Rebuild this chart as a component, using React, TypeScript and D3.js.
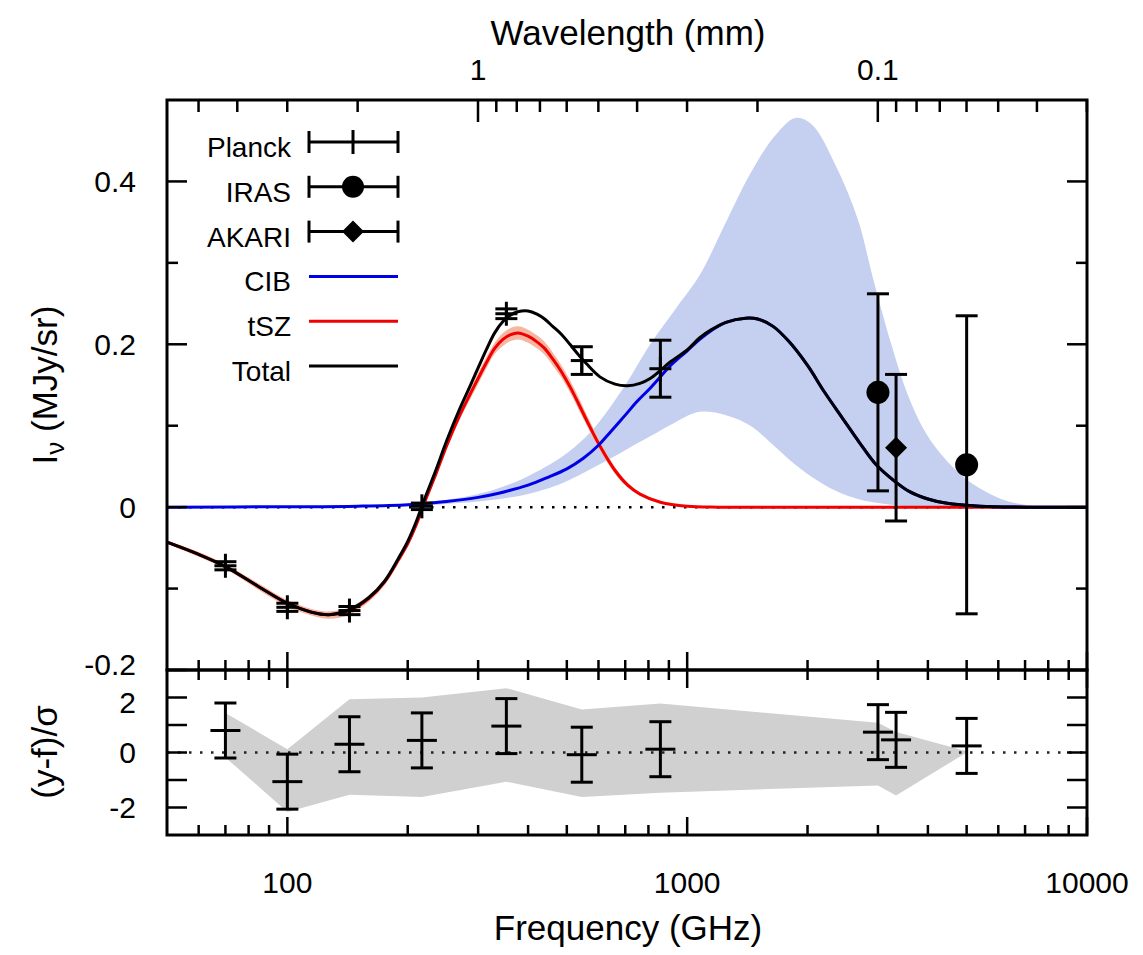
import React from 'react';
import * as d3 from 'd3';

// Planck / IRAS / AKARI measurements (GHz, MJy/sr)
const planckFreq = [70, 100, 143, 217, 353, 545, 857];
const planckVal = [-0.072, -0.123, -0.127, 0.001, 0.2375, 0.18, 0.17];
const planckErr = [0.005, 0.005, 0.005, 0.004, 0.006, 0.017, 0.035];

const irasFreq = [3000, 5000];
const irasVal = [0.141, 0.052];
const irasErr = [0.121, 0.183];

const akariFreq = [3330];
const akariVal = [0.073];
const akariErr = [0.09];

// model curves
const tszFreq = [50, 60, 70, 85, 100, 115, 127, 143, 160, 175, 190, 200, 210, 218, 235, 250, 270, 286, 300, 315, 330, 346, 362, 377, 400, 421, 440, 461, 485, 509, 535, 560, 605, 660, 710, 762, 857, 1000, 1200, 1500, 10000];
const tszVal = [-0.043, -0.058, -0.073, -0.098, -0.118, -0.129, -0.132, -0.127, -0.112, -0.092, -0.064, -0.045, -0.022, 0.0, 0.04, 0.075, 0.113, 0.138, 0.158, 0.178, 0.195, 0.206, 0.212, 0.214, 0.21, 0.203, 0.195, 0.182, 0.166, 0.148, 0.127, 0.107, 0.075, 0.045, 0.027, 0.016, 0.006, 0.001, 0, 0, 0];
const tszLo = [-0.045, -0.061, -0.076, -0.102, -0.122, -0.133, -0.137, -0.132, -0.116, -0.096, -0.067, -0.047, -0.023, -0.001, 0.038, 0.071, 0.108, 0.132, 0.151, 0.171, 0.188, 0.198, 0.204, 0.206, 0.202, 0.195, 0.187, 0.174, 0.159, 0.141, 0.12, 0.101, 0.07, 0.041, 0.024, 0.014, 0.005, 0.0005, 0, 0, 0];
const tszHi = [-0.041, -0.055, -0.07, -0.094, -0.114, -0.125, -0.128, -0.123, -0.108, -0.088, -0.061, -0.043, -0.021, 0.001, 0.042, 0.079, 0.118, 0.144, 0.165, 0.185, 0.202, 0.214, 0.22, 0.222, 0.218, 0.211, 0.203, 0.19, 0.174, 0.156, 0.135, 0.114, 0.081, 0.049, 0.03, 0.018, 0.007, 0.0015, 0, 0, 0];

const cibFreq = [50, 100, 150, 200, 250, 300, 350, 400, 450, 500, 550, 600, 642, 700, 750, 808, 857, 900, 1000, 1075, 1150, 1250, 1400, 1500, 1640, 1800, 2000, 2200, 2440, 2700, 2970, 3300, 3600, 4000, 4430, 5400, 7000, 10000];
const cibVal = [0, 0.0005, 0.0012, 0.003, 0.007, 0.012, 0.019, 0.027, 0.037, 0.047, 0.06, 0.076, 0.092, 0.113, 0.13, 0.146, 0.16, 0.172, 0.192, 0.206, 0.217, 0.227, 0.232, 0.231, 0.222, 0.203, 0.174, 0.142, 0.11, 0.079, 0.052, 0.032, 0.019, 0.01, 0.005, 0.001, 0, 0];

const totalFreq = [50, 60, 70, 85, 100, 115, 127, 143, 160, 175, 190, 200, 210, 218, 235, 250, 270, 286, 300, 315, 330, 346, 362, 377, 400, 421, 440, 461, 485, 509, 535, 560, 605, 660, 710, 762, 808, 857, 905, 1000, 1075, 1150, 1250, 1400, 1500, 1640, 1800, 2000, 2200, 2440, 2700, 2970, 3300, 3600, 4000, 4430, 5400, 7000, 10000];
const totalVal = [-0.043, -0.058, -0.073, -0.098, -0.118, -0.129, -0.132, -0.126, -0.111, -0.091, -0.062, -0.042, -0.018, 0.004, 0.045, 0.081, 0.121, 0.148, 0.171, 0.194, 0.214, 0.228, 0.236, 0.24, 0.241, 0.237, 0.231, 0.222, 0.212, 0.2, 0.187, 0.176, 0.16, 0.151, 0.149, 0.152, 0.158, 0.168, 0.178, 0.193, 0.208, 0.218, 0.227, 0.232, 0.231, 0.222, 0.203, 0.174, 0.142, 0.11, 0.079, 0.052, 0.032, 0.019, 0.01, 0.005, 0.001, 0, 0];

// CIB uncertainty band
const cibBandFreq = [150, 200, 250, 300, 350, 400, 490, 580, 700, 808, 940, 1075, 1250, 1440, 1650, 1865, 2050, 2350, 2670, 2920, 3240, 3550, 3900, 4300, 5000, 6100, 7000, 8000, 10000];
const cibBandHi = [0.001, 0.004, 0.009, 0.016, 0.026, 0.038, 0.063, 0.095, 0.15, 0.2, 0.245, 0.285, 0.35, 0.41, 0.455, 0.478, 0.47, 0.42, 0.354, 0.28, 0.2, 0.14, 0.096, 0.066, 0.034, 0.01, 0.003, 0, 0];
const cibBandLo = [0.0005, 0.001, 0.004, 0.007, 0.011, 0.016, 0.03, 0.048, 0.07, 0.087, 0.105, 0.117, 0.113, 0.1, 0.075, 0.052, 0.037, 0.02, 0.01, 0.006, 0.003, 0.001, 0, 0, 0, 0, 0, 0, 0];

// residuals (y-f)/sigma
const residFreq = [70, 100, 143, 217, 353, 545, 857, 3000, 3330, 5000];
const residVal = [0.8, -1.06, 0.3, 0.44, 0.96, -0.08, 0.12, 0.74, 0.46, 0.24];
const residErr = [1, 1, 1, 1, 1, 1, 1, 1, 1, 1];
const residBandHi = [1.44, 0.12, 1.94, 2.0, 2.34, 1.56, 1.78, 1.08, 0.75, 0.05];
const residBandLo = [-0.18, -2.16, -1.54, -1.62, -1.06, -1.62, -1.46, -1.2, -1.56, 0.0];

// axis ticks
const freqMajor = [100, 1000, 10000];
const freqMinor = [60, 70, 80, 90, 200, 300, 400, 500, 600, 700, 800, 900, 2000, 3000, 4000, 5000, 6000, 7000, 8000, 9000];
const lamMajor = [1, 0.1];
const lamMinor = [5, 4, 3, 2, 0.9, 0.8, 0.7, 0.6, 0.5, 0.4, 0.3, 0.2, 0.09, 0.08, 0.07, 0.06, 0.05, 0.04, 0.03];
const yMajor = [-0.2, 0, 0.2, 0.4];
const yMinor = [-0.1, 0.1, 0.3];
const rTicks = [-2, -1, 0, 1, 2];
const rLabels = [-2, 0, 2];

const legendNames = ['Planck', 'IRAS', 'AKARI', 'CIB', 'tSZ', 'Total'];

const FONT = 'Liberation Sans, Arial, Helvetica, sans-serif';
const C_MM = 299.792458;

export default function App() {
  const left = 167, right = 1087, top = 100, mid = 670, bottom = 835;
  const x = d3.scaleLog().domain([50, 10000]).range([left, right]);
  const y = d3.scaleLinear().domain([-0.2, 0.5]).range([mid, top]);
  const yr = d3.scaleLinear().domain([-3, 3]).range([bottom, mid]);

  const smooth = d3.curveCatmullRom.alpha(0.5);

  const mkLine = (fr: number[], vals: number[]) =>
    d3.line<number>()
      .x((d, i) => x(fr[i]))
      .y((d) => y(d))
      .curve(smooth)(vals) || '';

  const mkBand = (fr: number[], lo: number[], hi: number[]) =>
    d3.area<number>()
      .x((d, i) => x(fr[i]))
      .y0((d, i) => y(lo[i]))
      .y1((d) => y(d))
      .curve(smooth)(hi) || '';

  const residBand = d3.area<number>()
    .x((d, i) => x(residFreq[i]))
    .y0((d, i) => yr(residBandLo[i]))
    .y1((d) => yr(d))(residBandHi) || '';

  const sw = 3;
  const cap = 11;

  const errBar = (cx: number, y1: number, y2: number, key: string) => (
    <g key={key} stroke="black" strokeWidth={sw}>
      <line x1={cx} x2={cx} y1={y1} y2={y2} />
      <line x1={cx - cap} x2={cx + cap} y1={y1} y2={y1} />
      <line x1={cx - cap} x2={cx + cap} y1={y2} y2={y2} />
    </g>
  );

  const legY = (i: number) => 142 + i * 44.8;
  const lx1 = 309, lx2 = 398, lxc = 353;

  return (
    <svg width={1143} height={955} style={{ position: 'absolute', left: 0, top: 0, background: 'white' }} fontFamily={FONT}>
      <rect width={1143} height={955} fill="white" />

      <defs>
        <clipPath id="plotClip">
          <rect x={left} y={top} width={right - left} height={mid - top} />
        </clipPath>
      </defs>

      <g clipPath="url(#plotClip)">
        {/* CIB uncertainty band */}
        <path d={mkBand(cibBandFreq, cibBandLo, cibBandHi)} fill="#c5d0f1" stroke="none" />

        {/* zero line */}
        <line x1={left} x2={right} y1={y(0)} y2={y(0)} stroke="black" strokeWidth={2.5} strokeDasharray="2.5 8.5" />

        {/* tSZ with its narrow band */}
        <path d={mkBand(tszFreq, tszLo, tszHi)} fill="#f6b6a2" stroke="none" />
        <path d={mkLine(tszFreq, tszVal)} fill="none" stroke="#f00000" strokeWidth={3} />
        <path d={mkLine(cibFreq, cibVal)} fill="none" stroke="#0000e6" strokeWidth={3} />
        <path d={mkLine(totalFreq, totalVal)} fill="none" stroke="black" strokeWidth={3} />
      </g>

      {/* Planck points */}
      {planckFreq.map((f, i) => {
        const cx = x(f), cy = y(planckVal[i]);
        return (
          <g key={'p' + i}>
            {errBar(cx, y(planckVal[i] + planckErr[i]), y(planckVal[i] - planckErr[i]), 'pe' + i)}
            <g stroke="black" strokeWidth={sw}>
              <line x1={cx} x2={cx} y1={cy - 12} y2={cy + 12} />
              <line x1={cx - 11} x2={cx + 11} y1={cy} y2={cy} />
            </g>
          </g>
        );
      })}

      {/* IRAS points */}
      {irasFreq.map((f, i) => (
        <g key={'i' + i}>
          {errBar(x(f), y(irasVal[i] + irasErr[i]), y(irasVal[i] - irasErr[i]), 'ie' + i)}
          <circle cx={x(f)} cy={y(irasVal[i])} r={11.5} fill="black" />
        </g>
      ))}

      {/* AKARI points */}
      {akariFreq.map((f, i) => {
        const cx = x(f), cy = y(akariVal[i]);
        return (
          <g key={'a' + i}>
            {errBar(cx, y(akariVal[i] + akariErr[i]), y(akariVal[i] - akariErr[i]), 'ae' + i)}
            <path d={`M${cx},${cy - 11}L${cx + 11},${cy}L${cx},${cy + 11}L${cx - 11},${cy}Z`} fill="black" />
          </g>
        );
      })}

      {/* residual panel */}
      <path d={residBand} fill="#d0d0d0" stroke="none" />
      <line x1={left} x2={right} y1={yr(0)} y2={yr(0)} stroke="#222" strokeWidth={2.5} strokeDasharray="2.5 8.5" />
      {residFreq.map((f, i) => {
        const cx = x(f), cy = yr(residVal[i]);
        return (
          <g key={'r' + i}>
            {errBar(cx, yr(residVal[i] + residErr[i]), yr(residVal[i] - residErr[i]), 're' + i)}
            <line x1={cx - 15} x2={cx + 15} y1={cy} y2={cy} stroke="black" strokeWidth={sw} />
          </g>
        );
      })}

      {/* frames */}
      <g fill="none" stroke="black" strokeWidth={3}>
        <rect x={left} y={top} width={right - left} height={mid - top} />
        <rect x={left} y={mid} width={right - left} height={bottom - mid} />
      </g>

      {/* ticks */}
      <g stroke="black" strokeWidth={2.5}>
        {freqMajor.concat(freqMinor).map((f, i) => {
          const L = freqMajor.includes(f) ? 18 : 10;
          const px = x(f);
          return (
            <g key={'ft' + i}>
              <line x1={px} x2={px} y1={mid - L} y2={mid + L} />
              <line x1={px} x2={px} y1={bottom} y2={bottom - L} />
            </g>
          );
        })}
        {lamMajor.concat(lamMinor).map((l, i) => {
          const L = lamMajor.includes(l) ? 22 : 12;
          const px = x(C_MM / l);
          return <line key={'lt' + i} x1={px} x2={px} y1={top} y2={top + L} />;
        })}
        {yMajor.concat(yMinor).map((v, i) => {
          const L = yMajor.includes(v) ? 20 : 11;
          return (
            <g key={'yt' + i}>
              <line x1={left} x2={left + L} y1={y(v)} y2={y(v)} />
              <line x1={right} x2={right - L} y1={y(v)} y2={y(v)} />
            </g>
          );
        })}
        {rTicks.map((v, i) => (
          <g key={'rt' + i}>
            <line x1={left} x2={left + 20} y1={yr(v)} y2={yr(v)} />
            <line x1={right} x2={right - 20} y1={yr(v)} y2={yr(v)} />
          </g>
        ))}
      </g>

      {/* tick labels */}
      <g fontSize={30} fill="black">
        {freqMajor.map((f) => (
          <text key={'fl' + f} x={x(f)} y={893} textAnchor="middle">{String(f)}</text>
        ))}
        {lamMajor.map((l) => (
          <text key={'ll' + l} x={x(C_MM / l)} y={80} textAnchor="middle">{String(l)}</text>
        ))}
        {yMajor.map((v) => (
          <text key={'yl' + v} x={136} y={v === -0.2 ? y(v) - 6 : y(v)} dy="0.35em" textAnchor="end">{v === 0 ? '0' : v.toFixed(1)}</text>
        ))}
        {rLabels.map((v) => (
          <text key={'rl' + v} x={136} y={v === 2 ? yr(v) + 5 : yr(v)} dy="0.35em" textAnchor="end">{String(v)}</text>
        ))}
      </g>

      {/* axis titles */}
      <g fontSize={35} fill="black">
        <text x={628} y={45} textAnchor="middle">Wavelength (mm)</text>
        <text x={628} y={940} textAnchor="middle">Frequency (GHz)</text>
        <text transform="translate(57,385) rotate(-90)" textAnchor="middle">
          I<tspan dy={7} fontSize={26}>ν</tspan><tspan dy={-7}> (MJy/sr)</tspan>
        </text>
        <text transform="translate(57,752) rotate(-90)" textAnchor="middle">(y-f)/σ</text>
      </g>

      {/* legend */}
      <g fontSize={28}>
        {legendNames.map((n, i) => (
          <text key={'lg' + n} x={291} y={legY(i) + 15} textAnchor="end">{n}</text>
        ))}
        <g stroke="black" strokeWidth={sw}>
          {[0, 1, 2].map((i) => (
            <g key={'lb' + i}>
              <line x1={lx1} x2={lx2} y1={legY(i)} y2={legY(i)} />
              <line x1={lx1} x2={lx1} y1={legY(i) - 11} y2={legY(i) + 11} />
              <line x1={lx2} x2={lx2} y1={legY(i) - 11} y2={legY(i) + 11} />
            </g>
          ))}
          <line x1={lxc} x2={lxc} y1={legY(0) - 12} y2={legY(0) + 12} />
        </g>
        <circle cx={lxc} cy={legY(1)} r={11} fill="black" />
        <path d={`M${lxc},${legY(2) - 11}L${lxc + 11},${legY(2)}L${lxc},${legY(2) + 11}L${lxc - 11},${legY(2)}Z`} fill="black" />
        <line x1={lx1} x2={lx2} y1={legY(3)} y2={legY(3)} stroke="#0000e6" strokeWidth={3} />
        <line x1={lx1} x2={lx2} y1={legY(4)} y2={legY(4)} stroke="#f00000" strokeWidth={3} />
        <line x1={lx1} x2={lx2} y1={legY(5)} y2={legY(5)} stroke="black" strokeWidth={3} />
      </g>
    </svg>
  );
}
